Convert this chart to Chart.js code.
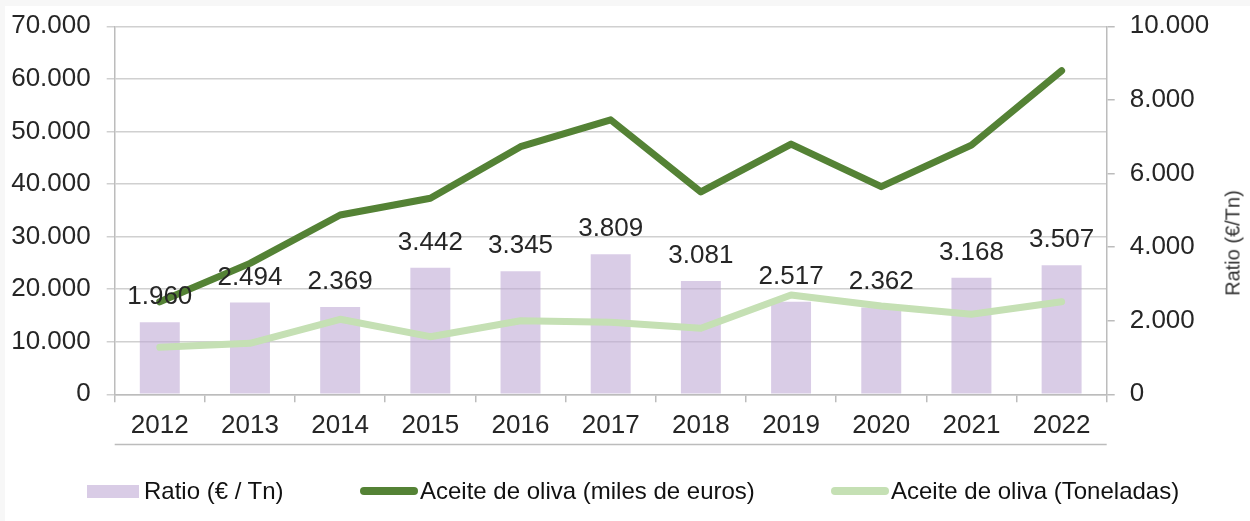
<!DOCTYPE html>
<html lang="es">
<head>
<meta charset="utf-8">
<title>Aceite de oliva</title>
<script src="https://cdn.jsdelivr.net/npm/chart.js@4.4.1/dist/chart.umd.min.js"></script>
<style>
  html, body { margin: 0; padding: 0; background: #f7f7f7; }
  body { width: 1250px; height: 521px; position: relative; overflow: hidden;
         font-family: "Liberation Sans", Arial, sans-serif; }
  #wrap { position: absolute; left: 5px; top: 6px; width: 1245px; height: 515px; background: #fff; }
  #yTitle { position: absolute; left: 1233px; top: 243px; font-size: 20px; color: #333;
            white-space: nowrap; transform: translate(-50%, -50%) rotate(-90deg); }
  .legend-item { position: absolute; top: 479px; height: 24px; display: flex; align-items: center;
                 font-size: 24px; color: #111; white-space: nowrap; }
  .swatch-box { width: 52px; height: 13px; margin-right: 5px; }
  .swatch-line { width: 58px; height: 8px; border-radius: 4px; margin-right: 2px; }
</style>
</head>
<body>
<div id="wrap"><canvas id="chart" width="1245" height="515"></canvas></div>
<div id="yTitle">Ratio (€/Tn)</div>
<div id="legend"></div>

<script>
// ---------- data ----------
const years = ['2012', '2013', '2014', '2015', '2016', '2017', '2018', '2019', '2020', '2021', '2022'];

// bars, right axis (€ per tonne)
const ratio = [1960, 2494, 2369, 3442, 3345, 3809, 3081, 2517, 2362, 3168, 3507];

// lines, left axis
const milesEuros = [17600, 24900, 34100, 37300, 47100, 52200, 38500, 47600, 39500, 47400, 61550];
const toneladas = [8940, 9700, 14270, 10960, 14000, 13700, 12550, 18890, 16800, 15220, 17610];

const seriesNames = ['Ratio (€ / Tn)', 'Aceite de oliva (miles de euros)', 'Aceite de oliva (Toneladas)'];

// colours
const BAR_COLOR = 'rgba(192, 170, 213, 0.6)';
const BAR_SWATCH = '#d9cce6';
const DARK_GREEN = '#548235';
const LIGHT_GREEN = '#c5e0b4';
const TEXT_COLOR = '#262626';
const GRID_COLOR = '#d0d0d0';
const AXIS_COLOR = '#bcbcbc';

// Spanish style thousands separator: 70000 -> 70.000
function fmt(v) {
    return String(Math.round(v)).replace(/\B(?=(\d{3})+(?!\d))/g, '.');
}

// labels above the bars, drawn after datasets so they sit on top of the lines
const barLabels = {
    id: 'barLabels',
    afterDatasetsDraw(chart) {
        const ctx = chart.ctx;
        const meta = chart.getDatasetMeta(0);
        ctx.save();
        ctx.font = '26px "Liberation Sans", Arial, sans-serif';
        ctx.fillStyle = TEXT_COLOR;
        ctx.textAlign = 'center';
        ctx.textBaseline = 'alphabetic';
        meta.data.forEach((bar, i) => {
            ctx.fillText(fmt(ratio[i]), bar.x, bar.y - 18);
        });
        ctx.restore();
    }
};

// thin rule under the category labels
const underline = {
    id: 'underline',
    afterDraw(chart) {
        const { ctx, chartArea } = chart;
        const y = Math.round(chartArea.bottom + 50) + 0.5;
        ctx.save();
        ctx.strokeStyle = AXIS_COLOR;
        ctx.lineWidth = 1.5;
        ctx.beginPath();
        ctx.moveTo(chartArea.left, y);
        ctx.lineTo(chartArea.right, y);
        ctx.stroke();
        ctx.restore();
    }
};

const tickFont = { family: '"Liberation Sans", Arial, sans-serif', size: 26 };

// fixed axis sizes so the plot area lands where the original has it
function fixY(width) {
    return scale => {
        scale.width = width;
        scale.paddingTop = 0;
        scale.paddingBottom = 0;
    };
}

new Chart(document.getElementById('chart'), {
    type: 'bar',
    data: {
        labels: years,
        datasets: [
            {
                type: 'bar',
                label: seriesNames[0],
                data: ratio,
                yAxisID: 'y1',
                backgroundColor: BAR_COLOR,
                borderWidth: 0,
                barPercentage: 0.443,
                categoryPercentage: 1,
                order: 3
            },
            {
                type: 'line',
                label: seriesNames[1],
                data: milesEuros,
                yAxisID: 'y',
                borderColor: DARK_GREEN,
                borderWidth: 7,
                borderCapStyle: 'round',
                borderJoinStyle: 'round',
                pointRadius: 0,
                tension: 0,
                order: 2
            },
            {
                type: 'line',
                label: seriesNames[2],
                data: toneladas,
                yAxisID: 'y',
                borderColor: LIGHT_GREEN,
                borderWidth: 7,
                borderCapStyle: 'round',
                borderJoinStyle: 'round',
                pointRadius: 0,
                tension: 0,
                order: 1
            }
        ]
    },
    options: {
        responsive: false,
        animation: false,
        devicePixelRatio: 1,
        layout: { padding: { top: 20.3, left: 0, right: 0, bottom: 76.7 } },
        plugins: {
            legend: { display: false },
            tooltip: { enabled: false }
        },
        scales: {
            x: {
                offset: true,
                grid: { offset: true, drawOnChartArea: false, color: AXIS_COLOR, lineWidth: 1.5, tickLength: 8 },
                border: { color: AXIS_COLOR, width: 1.5 },
                ticks: { color: TEXT_COLOR, font: tickFont, padding: 8, maxRotation: 0 },
                afterFit(scale) {
                    scale.height = 50;
                    scale.paddingLeft = 0;
                    scale.paddingRight = 0;
                }
            },
            y: {
                position: 'left',
                min: 0,
                max: 70000,
                ticks: { stepSize: 10000, color: TEXT_COLOR, font: tickFont, padding: 16, callback: v => fmt(v) },
                grid: { color: GRID_COLOR, lineWidth: 1.5, tickLength: 8 },
                border: { color: AXIS_COLOR, width: 1.5 },
                afterFit: fixY(109.7)
            },
            y1: {
                position: 'right',
                min: 0,
                max: 10000,
                ticks: { stepSize: 2000, color: TEXT_COLOR, font: tickFont, padding: 15, callback: v => fmt(v) },
                grid: { drawOnChartArea: false, color: AXIS_COLOR, lineWidth: 1.5, tickLength: 8 },
                border: { color: AXIS_COLOR, width: 1.5 },
                afterFit: fixY(143.3)
            }
        }
    },
    plugins: [barLabels, underline]
});

// ---------- legend below the chart ----------
const legendItems = [
    { left: 87, cls: 'swatch-box', color: BAR_SWATCH, text: seriesNames[0] },
    { left: 360, cls: 'swatch-line', color: DARK_GREEN, text: seriesNames[1] },
    { left: 831, cls: 'swatch-line', color: LIGHT_GREEN, text: seriesNames[2] }
];
const legend = document.getElementById('legend');
legendItems.forEach(item => {
    const div = document.createElement('div');
    div.className = 'legend-item';
    div.style.left = item.left + 'px';
    const sw = document.createElement('span');
    sw.className = item.cls;
    sw.style.background = item.color;
    const label = document.createElement('span');
    label.textContent = item.text;
    div.appendChild(sw);
    div.appendChild(label);
    legend.appendChild(div);
});
</script>
</body>
</html>
